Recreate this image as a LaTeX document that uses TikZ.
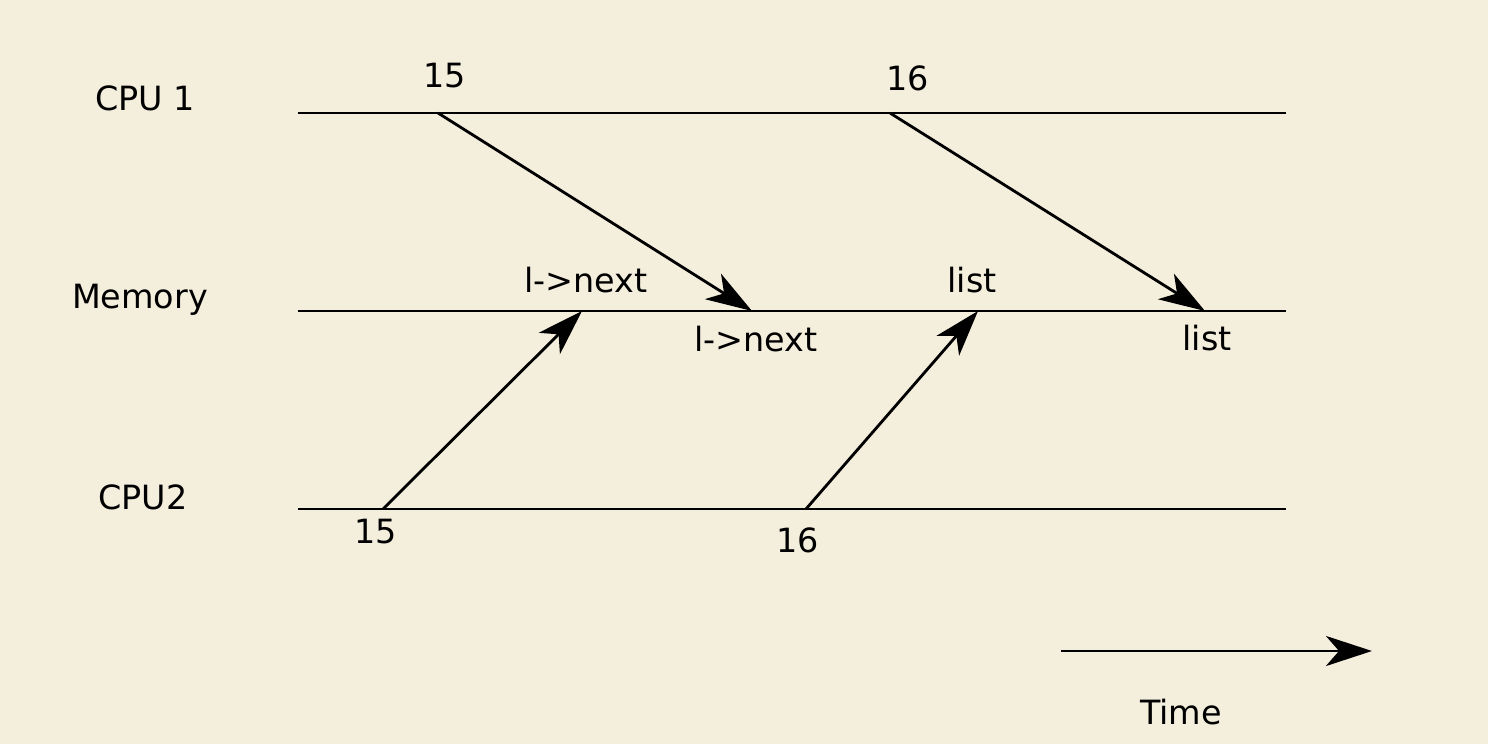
\documentclass[tikz,border=0pt]{standalone}
\usepackage{fontspec}
\setmainfont{DejaVu Sans}
\usetikzlibrary{arrows.meta}
\definecolor{paper}{HTML}{F4EEDD}

\begin{document}
\begin{tikzpicture}[>={Stealth[length=4.6mm,width=3mm,inset=1.3mm]}, line width=0.8pt,
    font=\fontsize{9.5}{11}\selectfont, inner sep=1pt]
    \fill [paper] (0,0) rectangle (14.88,7.44);
    % the three time lines
    \node (cpua) at (1.45,6.46) {CPU 1};
    \node (mem) at (1.40,4.44) {Memory};
    \node (cpub) at (1.43,2.47) {CPU2};
    \coordinate (a0) at (2.98,6.31); \coordinate (a1) at (12.86,6.31);
    \coordinate (m0) at (2.98,4.33); \coordinate (m1) at (12.86,4.33);
    \coordinate (b0) at (2.98,2.35); \coordinate (b1) at (12.86,2.35);
    \draw (a0) -- (a1);
    \draw (m0) -- (m1);
    \draw (b0) -- (b1);
    % CPU 1 writes
    \coordinate (w15) at (4.38,6.31); \coordinate (w16) at (8.90,6.31);
    \coordinate (n15) at (7.52,4.33); \coordinate (n16) at (12.05,4.33);
    \node (t15) at (4.45,6.68) {15};
    \node (t16) at (9.08,6.66) {16};
    \draw [->] (w15) -- (n15);
    \draw [->] (w16) -- (n16);
    \node (nxa) at (7.56,4.05) {l->next};
    \node (lsa) at (12.07,4.06) {list};
    % CPU2 writes
    \coordinate (r15) at (3.83,2.35); \coordinate (r16) at (8.06,2.35);
    \coordinate (p15) at (5.82,4.33); \coordinate (p16) at (9.78,4.33);
    \node (s15) at (3.76,2.12) {15};
    \node (s16) at (7.98,2.04) {16};
    \draw [->] (r15) -- (p15);
    \draw [->] (r16) -- (p16);
    \node (nxb) at (5.86,4.64) {l->next};
    \node (lsb) at (9.72,4.64) {list};
    % time axis
    \coordinate (ta) at (10.61,0.93); \coordinate (tb) at (13.72,0.93);
    \draw [->] (ta) -- (tb);
    \node (time) at (11.81,0.32) {Time};
\end{tikzpicture}
\end{document}
